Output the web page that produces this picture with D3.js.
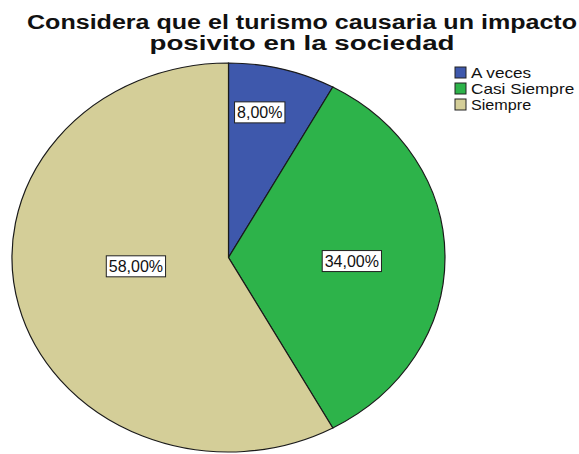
<!DOCTYPE html>
<html>
<head>
<meta charset="utf-8">
<script src="https://cdn.jsdelivr.net/npm/d3@7"></script>
<style>
  html, body { margin: 0; padding: 0; background: #ffffff; }
  svg { display: block; }
  text { font-family: "Liberation Sans", Arial, sans-serif; }
</style>
</head>
<body>
<div id="chart"></div>
<script>
// Response categories and their shares (%)
const categories = ["A veces", "Casi Siempre", "Siempre"];
const values = [8.00, 34.00, 58.00];
const colors = ["#3e58ac", "#2db34a", "#d4ce98"];
const titleLines = ["Considera que el turismo causaria un impacto", "posivito en la sociedad"];

// Layout
const W = 579, H = 454;
const cx = 228.5, cy = 257.5;
const rx = 216.5, ry = 194.5;          // the pie is drawn slightly flattened
// value box placement: [radial fraction, position along the slice's angle span]
const labelPlace = [[0.76, 0.38], [0.57, 0.515], [0.43, 0.54]];

const fmt = v => d3.format(".2f")(v).replace(".", ",") + "%";

const svg = d3.select("#chart").append("svg")
  .attr("width", W).attr("height", H);

// Title (two centred lines)
const titleWidths = [550, 305];
titleLines.forEach((t, i) => {
  svg.append("text")
    .attr("x", 302).attr("y", 29 + i * 21)
    .attr("text-anchor", "middle")
    .attr("font-weight", "bold")
    .attr("font-size", 20)
    .attr("fill", "#111")
    .attr("textLength", titleWidths[i])
    .attr("lengthAdjust", "spacingAndGlyphs")
    .text(t);
});

// Pie
const pie = d3.pie().sort(null).value(d => d)(values);
const arc = d3.arc().innerRadius(0).outerRadius(rx);

const g = svg.append("g")
  .attr("transform", `translate(${cx},${cy}) scale(1,${ry / rx})`);

g.selectAll("path")
  .data(pie)
  .join("path")
  .attr("d", arc)
  .attr("fill", (d, i) => colors[i])
  .attr("stroke", "#1a1a1a")
  .attr("stroke-width", 1.2)
  .attr("vector-effect", "non-scaling-stroke");

// Value boxes
const labels = svg.append("g");
pie.forEach((d, i) => {
  const [rf, af] = labelPlace[i];
  const a = d.startAngle + (d.endAngle - d.startAngle) * af;
  const x = cx + rx * rf * Math.sin(a);
  const y = cy - ry * rf * Math.cos(a);
  const lg = labels.append("g").attr("transform", `translate(${x},${y})`);
  const t = lg.append("text")
    .attr("text-anchor", "middle")
    .attr("dy", "0.36em")
    .attr("font-size", 16)
    .attr("fill", "#111")
    .text(fmt(values[i]));
  const bb = t.node().getBBox();
  lg.insert("rect", "text")
    .attr("x", bb.x - 2.5).attr("y", -10.5)
    .attr("width", bb.width + 5).attr("height", 21)
    .attr("fill", "#ffffff")
    .attr("stroke", "#222")
    .attr("stroke-width", 1);
});

// Legend
const legend = svg.append("g").attr("transform", "translate(455,67)");
categories.forEach((c, i) => {
  const row = legend.append("g").attr("transform", `translate(0,${i * 16})`);
  row.append("rect")
    .attr("width", 11).attr("height", 11)
    .attr("fill", colors[i])
    .attr("stroke", "#222").attr("stroke-width", 1);
  row.append("text")
    .attr("x", 16).attr("y", 5.5).attr("dy", "0.36em")
    .attr("font-size", 15)
    .attr("fill", "#111")
    .attr("textLength", c.length * 8.6)
    .attr("lengthAdjust", "spacingAndGlyphs")
    .text(c);
});
</script>
</body>
</html>
